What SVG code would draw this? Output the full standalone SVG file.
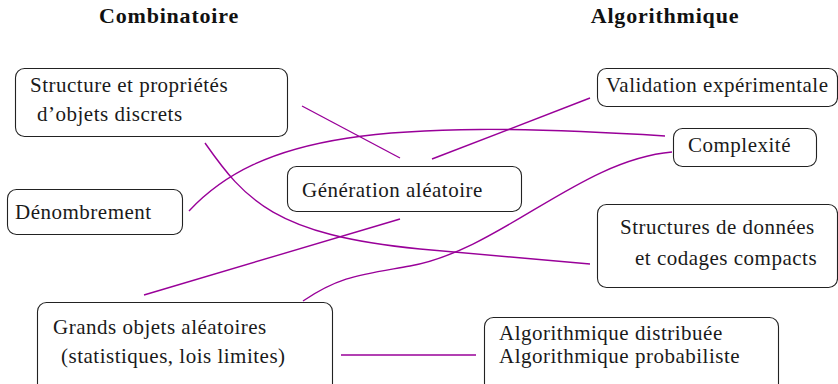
<svg xmlns="http://www.w3.org/2000/svg" width="838" height="384" viewBox="0 0 838 384">
<style>
.box{fill:#fff;stroke:#222;stroke-width:1.1}
.t{font-family:"Liberation Serif","Times New Roman",serif;font-size:21px;letter-spacing:0.5px;fill:#1a1a1a}
.h{font-family:"Liberation Serif","Times New Roman",serif;font-size:22px;font-weight:bold;letter-spacing:0.8px;fill:#111}
.c{fill:none;stroke:#990099;stroke-width:1.4}
</style>
<rect width="838" height="384" fill="#fff"/>
<g id="titles">
<text class="h" x="169" y="23" text-anchor="middle">Combinatoire</text>
<text class="h" x="665" y="23" text-anchor="middle">Algorithmique</text>
</g>
<g id="connectors">
<path class="c" d="M302,106 L400,158"/>
<path class="c" d="M432,159 L590,98"/>
<path class="c" d="M189,211 C260,135 380,118 665,136"/>
<path class="c" d="M205,143 C245,200 275,235 420,249 L590,264"/>
<path class="c" d="M400,219 L144,295"/>
<path class="c" d="M303,301 C340,276 360,275 410,266 C500,250 580,160 672,152"/>
<path class="c" d="M341,355 L476,355"/>
</g>
<g id="n-structure">
<rect class="box" x="15.5" y="68.5" width="272" height="68" rx="9"/>
<text class="t" x="30" y="92">Structure et propriétés</text>
<text class="t" x="37" y="121">d’objets discrets</text>
</g>
<g id="n-denombrement">
<rect class="box" x="7.5" y="189.5" width="175" height="45" rx="9"/>
<text class="t" x="15" y="219">Dénombrement</text>
</g>
<g id="n-generation">
<rect class="box" x="287.5" y="166.5" width="234" height="45" rx="9"/>
<text class="t" x="302" y="197">Génération aléatoire</text>
</g>
<g id="n-validation">
<rect class="box" x="597.5" y="68.5" width="240" height="38" rx="9"/>
<text class="t" x="606" y="92">Validation expérimentale</text>
</g>
<g id="n-complexite">
<rect class="box" x="673.5" y="128.5" width="143" height="38" rx="9"/>
<text class="t" x="688" y="152">Complexité</text>
</g>
<g id="n-structures-donnees">
<rect class="box" x="597.5" y="204.5" width="240" height="83" rx="9"/>
<text class="t" x="620" y="234">Structures de données</text>
<text class="t" x="635" y="265">et codages compacts</text>
</g>
<g id="n-grands-objets">
<rect class="box" x="37.5" y="302.5" width="295" height="90" rx="9"/>
<text class="t" x="53" y="334">Grands objets aléatoires</text>
<text class="t" x="61" y="363">(statistiques, lois limites)</text>
</g>
<g id="n-algo">
<rect class="box" x="484.5" y="317.5" width="294" height="75" rx="9"/>
<text class="t" x="499" y="340">Algorithmique distribuée</text>
<text class="t" x="499" y="363">Algorithmique probabiliste</text>
</g>
</svg>
